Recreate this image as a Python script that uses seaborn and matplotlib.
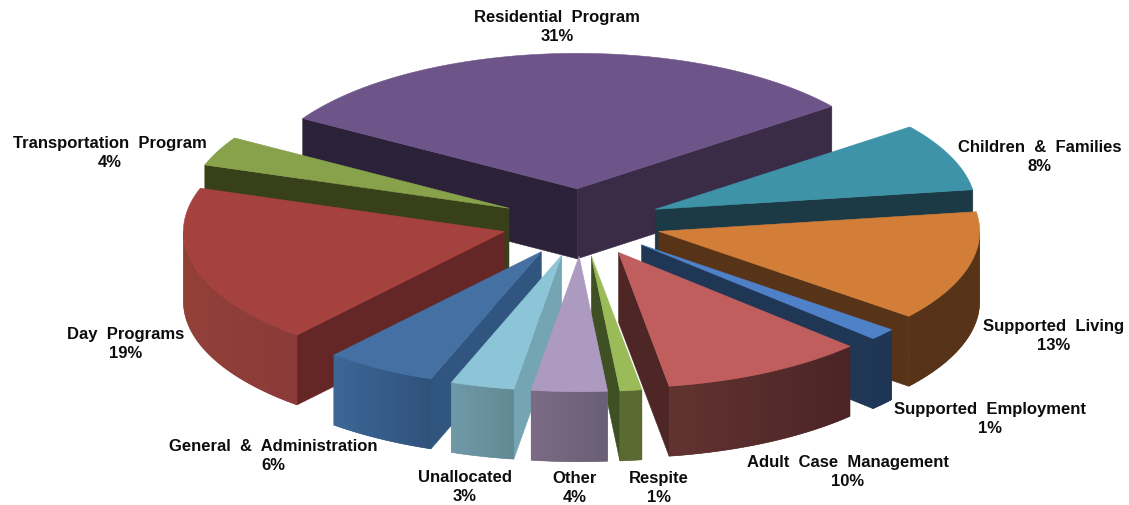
import numpy as np
import matplotlib
matplotlib.use("Agg")
import matplotlib.pyplot as plt
from matplotlib.patches import Polygon
from matplotlib.colors import to_rgb
import seaborn as sns

# ---- data (percent shares, clockwise, starting with Children & Families)
categories = ["Children  &  Families", "Supported  Living", "Supported  Employment",
              "Adult  Case  Management", "Respite", "Other", "Unallocated",
              "General  &  Administration", "Day  Programs", "Transportation  Program",
              "Residential  Program"]
shares = [8.1, 13.1, 1.4, 10.3, 1.1, 3.8, 3.2, 5.6, 19.0, 3.5, 30.9]
percent_labels = ["8%", "13%", "1%", "10%", "1%", "4%", "3%", "6%", "19%", "4%", "31%"]

# ---- styles
top_colors = ["#3E93A8", "#D27E39", "#4F81C9", "#BF5E5C", "#9BBB59", "#AC9AC0",
              "#8CC5D8", "#4470A3", "#A5423F", "#87A24B", "#6E5589"]
start_wall = ["#1B3A45", "#573318", "#1F3655", "#4F2626", "#3F5024", "#6A6075",
              "#75A4B3", "#30567F", "#642726", "#384019", "#2B2138"]
end_wall = ["#1B3A45", "#573318", "#1F3655", "#4F2626", "#3F5024", "#6A6075",
            "#75A4B3", "#30567F", "#642726", "#384019", "#3A2B47"]
rim_left = ["#1B3A45", "#573318", "#1F3655", "#623431", "#5A6B32", "#7B6B85",
            "#7099A8", "#3D6798", "#934039", "#384019", "#2B2138"]
rim_right = ["#1B3A45", "#573318", "#1F3655", "#4C2426", "#5A6B32", "#6A6075",
             "#628A94", "#2F527B", "#8B3B38", "#384019", "#3A2B47"]
label_xy = [(1040, 157), (1054, 336), (990, 419), (848, 472), (659, 488), (575, 488),
            (465, 487), (273, 456), (126, 344), (110, 153), (557, 27)]

CX, CY = 581.5, 223.5     # pie centre in figure pixels
RADIUS = 321.0
SQUASH = 0.422            # ellipse ratio of the tilted disc
EXPLODE = 80.0
DEPTH = 70.0
FIRST_ANGLE = 52.5        # degrees clockwise from 12 o'clock

sns.set_theme(style="white")
plt.rcParams["font.family"] = ["Liberation Sans", "DejaVu Sans"]

fig = plt.figure(figsize=(11.29, 5.06), dpi=100, facecolor="white")
ax = fig.add_axes([0, 0, 1, 1])
ax.set_xlim(0, 1129)
ax.set_ylim(506, 0)
ax.autoscale(False)
ax.axis("off")


def project(theta_deg, r, ax_x, ax_y):
    t = np.radians(theta_deg)
    return ax_x + r * np.sin(t), ax_y - r * SQUASH * np.cos(t)


def poly(points, color, z):
    patch = Polygon(points, closed=True, facecolor=color, edgecolor=color,
                    linewidth=0.4, zorder=z)
    ax.add_patch(patch)
    return patch


totals = np.array(shares, dtype=float)
sweeps = totals / totals.sum() * 360.0
starts = FIRST_ANGLE + np.concatenate([[0.0], np.cumsum(sweeps)[:-1]])
ends = starts + sweeps
mids = (starts + ends) / 2.0
order = np.argsort(-np.cos(np.radians(mids)))

for rank, i in enumerate(order):
    z = 10 + rank * 5
    a0, a1 = starts[i], ends[i]
    ax_x, ax_y = project(mids[i], EXPLODE, CX, CY)
    apex = (ax_x, ax_y)
    apex_low = (ax_x, ax_y + DEPTH)

    # cut walls, only those facing the viewer
    p0 = project(a0, RADIUS, ax_x, ax_y)
    p1 = project(a1, RADIUS, ax_x, ax_y)
    if np.sin(np.radians(a0)) < 0:
        poly([apex, p0, (p0[0], p0[1] + DEPTH), apex_low], start_wall[i], z)
    if np.sin(np.radians(a1)) > 0:
        poly([apex, p1, (p1[0], p1[1] + DEPTH), apex_low], end_wall[i], z)

    # outer rim, shaded from left to right with a clipped gradient
    lo, hi = max(a0, 90.0), min(a1, 270.0)
    if hi > lo:
        thetas = np.linspace(lo, hi, 60)
        xs, ys = project(thetas, RADIUS, ax_x, ax_y)
        outline = list(zip(xs, ys)) + list(zip(xs[::-1], ys[::-1] + DEPTH))
        c_l, c_r = np.array(to_rgb(rim_left[i])), np.array(to_rgb(rim_right[i]))
        base = poly(outline, tuple((c_l + c_r) / 2), z + 1)
        ramp = np.linspace(0, 1, 64)[None, :, None]
        img = c_l[None, None, :] + (c_r - c_l)[None, None, :] * ramp
        im = ax.imshow(img, extent=[xs.min(), xs.max(), ys.max() + DEPTH, ys.min()],
                       aspect="auto", interpolation="bilinear", zorder=z + 1.5)
        im.set_clip_path(base)

    # top face
    thetas = np.linspace(a0, a1, 80)
    xs, ys = project(thetas, RADIUS, ax_x, ax_y)
    poly([apex] + list(zip(xs, ys)), top_colors[i], z + 2)

ax.set_xlim(0, 1129)
ax.set_ylim(506, 0)

for name, pct, (x, y) in zip(categories, percent_labels, label_xy):
    ax.text(x, y, f"{name}\n{pct}", ha="center", va="center", fontsize=12,
            fontweight="bold", color="#0d0d0d", linespacing=1.4, zorder=100)

fig.savefig("out.png", dpi=100, facecolor="white")
